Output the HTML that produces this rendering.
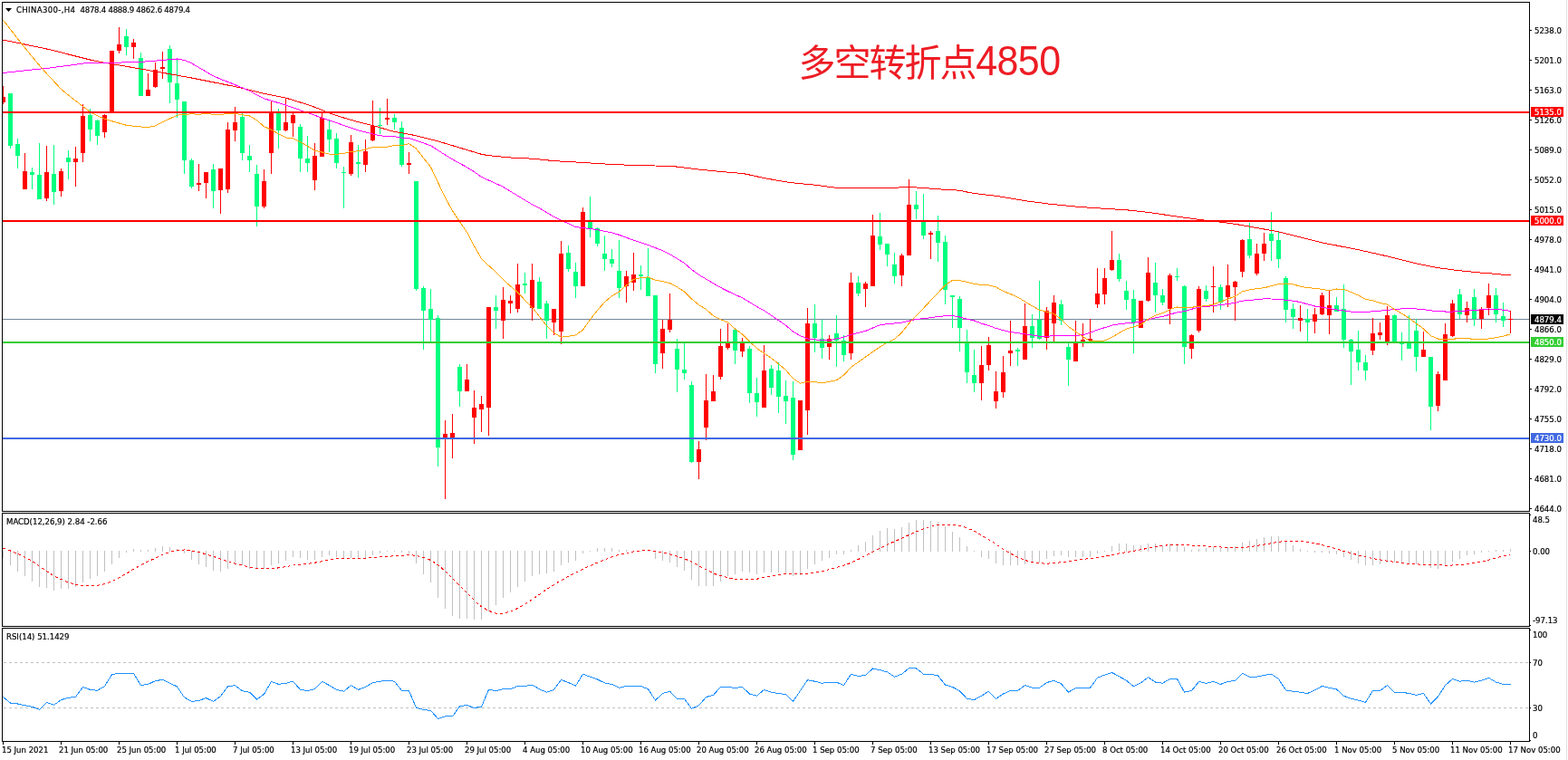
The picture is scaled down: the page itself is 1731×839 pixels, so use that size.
<!DOCTYPE html>
<html><head><meta charset="utf-8"><title>CHINA300 H4</title>
<style>
html,body{margin:0;padding:0;background:#fff;width:1731px;height:839px;overflow:hidden}
svg{display:block}
.ax{font-family:"DejaVu Sans Condensed","DejaVu Sans",sans-serif;font-stretch:condensed;font-size:9.5px;fill:#000;stroke:#000;stroke-width:0.2px}
.title{font-family:"Liberation Sans","Noto Sans CJK SC",sans-serif;font-size:41px;letter-spacing:-2px;fill:#ed1c24}
.tdig{font-size:43px;letter-spacing:-0.6px}
</style></head><body>
<svg width="1731" height="839" viewBox="0 0 1731 839">
<defs>
<clipPath id="cmain"><rect x="3" y="3" width="1685" height="561"/></clipPath>
<clipPath id="cmacd"><rect x="3" y="567" width="1685" height="124"/></clipPath>
<clipPath id="crsi"><rect x="3" y="694" width="1685" height="124"/></clipPath>
</defs>
<rect width="1731" height="839" fill="#ffffff"/>
<g clip-path="url(#cmain)" shape-rendering="crispEdges"><rect x="3" y="352" width="1685" height="1" fill="#778899"/><rect x="3" y="95" width="1" height="20" fill="#ff0000"/><rect x="1" y="107" width="5" height="6" fill="#ff0000"/><rect x="11" y="103" width="1" height="61" fill="#00ff7f"/><rect x="9" y="103" width="5" height="58" fill="#00ff7f"/><rect x="19" y="153" width="1" height="33" fill="#00ff7f"/><rect x="17" y="159" width="5" height="13" fill="#00ff7f"/><rect x="27" y="169" width="1" height="40" fill="#ff0000"/><rect x="25" y="189" width="5" height="20" fill="#ff0000"/><rect x="35" y="185" width="1" height="24" fill="#00ff7f"/><rect x="33" y="190" width="5" height="3" fill="#00ff7f"/><rect x="43" y="158" width="1" height="62" fill="#00ff7f"/><rect x="41" y="193" width="5" height="27" fill="#00ff7f"/><rect x="51" y="161" width="1" height="61" fill="#ff0000"/><rect x="49" y="190" width="5" height="29" fill="#ff0000"/><rect x="59" y="160" width="1" height="66" fill="#00ff7f"/><rect x="57" y="192" width="5" height="20" fill="#00ff7f"/><rect x="67" y="186" width="1" height="31" fill="#ff0000"/><rect x="65" y="189" width="5" height="22" fill="#ff0000"/><rect x="75" y="166" width="1" height="32" fill="#00ff7f"/><rect x="73" y="174" width="5" height="5" fill="#00ff7f"/><rect x="83" y="162" width="1" height="44" fill="#ff0000"/><rect x="81" y="175" width="5" height="4" fill="#ff0000"/><rect x="91" y="115" width="1" height="64" fill="#ff0000"/><rect x="89" y="128" width="5" height="41" fill="#ff0000"/><rect x="99" y="120" width="1" height="36" fill="#00ff7f"/><rect x="97" y="127" width="5" height="16" fill="#00ff7f"/><rect x="107" y="132" width="1" height="28" fill="#00ff7f"/><rect x="105" y="133" width="5" height="17" fill="#00ff7f"/><rect x="115" y="126" width="1" height="26" fill="#ff0000"/><rect x="113" y="127" width="5" height="19" fill="#ff0000"/><rect x="123" y="56" width="1" height="68" fill="#ff0000"/><rect x="121" y="56" width="5" height="68" fill="#ff0000"/><rect x="131" y="30" width="1" height="29" fill="#ff0000"/><rect x="129" y="49" width="5" height="7" fill="#ff0000"/><rect x="139" y="32" width="1" height="29" fill="#00ff7f"/><rect x="137" y="40" width="5" height="12" fill="#00ff7f"/><rect x="147" y="43" width="1" height="22" fill="#ff0000"/><rect x="145" y="47" width="5" height="5" fill="#ff0000"/><rect x="155" y="58" width="1" height="48" fill="#00ff7f"/><rect x="153" y="64" width="5" height="42" fill="#00ff7f"/><rect x="163" y="81" width="1" height="25" fill="#ff0000"/><rect x="161" y="99" width="5" height="7" fill="#ff0000"/><rect x="171" y="69" width="1" height="28" fill="#ff0000"/><rect x="169" y="77" width="5" height="19" fill="#ff0000"/><rect x="179" y="57" width="1" height="30" fill="#ff0000"/><rect x="177" y="74" width="5" height="2" fill="#ff0000"/><rect x="187" y="50" width="1" height="64" fill="#00ff7f"/><rect x="185" y="54" width="5" height="37" fill="#00ff7f"/><rect x="195" y="65" width="1" height="65" fill="#00ff7f"/><rect x="193" y="92" width="5" height="18" fill="#00ff7f"/><rect x="203" y="112" width="1" height="80" fill="#00ff7f"/><rect x="201" y="112" width="5" height="65" fill="#00ff7f"/><rect x="211" y="175" width="1" height="33" fill="#00ff7f"/><rect x="209" y="177" width="5" height="29" fill="#00ff7f"/><rect x="219" y="181" width="1" height="30" fill="#ff0000"/><rect x="217" y="202" width="5" height="2" fill="#ff0000"/><rect x="227" y="190" width="1" height="29" fill="#ff0000"/><rect x="225" y="190" width="5" height="12" fill="#ff0000"/><rect x="235" y="181" width="1" height="49" fill="#00ff7f"/><rect x="233" y="187" width="5" height="24" fill="#00ff7f"/><rect x="243" y="186" width="1" height="50" fill="#ff0000"/><rect x="241" y="186" width="5" height="24" fill="#ff0000"/><rect x="251" y="135" width="1" height="78" fill="#ff0000"/><rect x="249" y="143" width="5" height="66" fill="#ff0000"/><rect x="259" y="118" width="1" height="38" fill="#ff0000"/><rect x="257" y="135" width="5" height="9" fill="#ff0000"/><rect x="267" y="125" width="1" height="52" fill="#00ff7f"/><rect x="265" y="129" width="5" height="40" fill="#00ff7f"/><rect x="275" y="160" width="1" height="30" fill="#00ff7f"/><rect x="273" y="172" width="5" height="5" fill="#00ff7f"/><rect x="283" y="182" width="1" height="68" fill="#00ff7f"/><rect x="281" y="192" width="5" height="36" fill="#00ff7f"/><rect x="291" y="187" width="1" height="43" fill="#ff0000"/><rect x="289" y="200" width="5" height="28" fill="#ff0000"/><rect x="299" y="112" width="1" height="80" fill="#ff0000"/><rect x="297" y="125" width="5" height="44" fill="#ff0000"/><rect x="307" y="120" width="1" height="44" fill="#00ff7f"/><rect x="305" y="125" width="5" height="19" fill="#00ff7f"/><rect x="315" y="108" width="1" height="37" fill="#ff0000"/><rect x="313" y="135" width="5" height="9" fill="#ff0000"/><rect x="323" y="124" width="1" height="27" fill="#ff0000"/><rect x="321" y="127" width="5" height="9" fill="#ff0000"/><rect x="331" y="137" width="1" height="53" fill="#00ff7f"/><rect x="329" y="140" width="5" height="35" fill="#00ff7f"/><rect x="339" y="150" width="1" height="40" fill="#00ff7f"/><rect x="337" y="175" width="5" height="5" fill="#00ff7f"/><rect x="347" y="158" width="1" height="52" fill="#ff0000"/><rect x="345" y="172" width="5" height="27" fill="#ff0000"/><rect x="355" y="124" width="1" height="49" fill="#ff0000"/><rect x="353" y="130" width="5" height="43" fill="#ff0000"/><rect x="363" y="132" width="1" height="36" fill="#00ff7f"/><rect x="361" y="143" width="5" height="11" fill="#00ff7f"/><rect x="371" y="147" width="1" height="39" fill="#00ff7f"/><rect x="369" y="153" width="5" height="27" fill="#00ff7f"/><rect x="379" y="184" width="1" height="46" fill="#00ff7f"/><rect x="377" y="190" width="5" height="1" fill="#00ff7f"/><rect x="387" y="149" width="1" height="45" fill="#ff0000"/><rect x="385" y="157" width="5" height="35" fill="#ff0000"/><rect x="395" y="160" width="1" height="36" fill="#00ff7f"/><rect x="393" y="179" width="5" height="2" fill="#00ff7f"/><rect x="403" y="154" width="1" height="36" fill="#ff0000"/><rect x="401" y="167" width="5" height="15" fill="#ff0000"/><rect x="411" y="111" width="1" height="45" fill="#ff0000"/><rect x="409" y="139" width="5" height="16" fill="#ff0000"/><rect x="419" y="119" width="1" height="29" fill="#00ff7f"/><rect x="417" y="138" width="5" height="1" fill="#00ff7f"/><rect x="427" y="109" width="1" height="29" fill="#ff0000"/><rect x="425" y="130" width="5" height="2" fill="#ff0000"/><rect x="435" y="126" width="1" height="17" fill="#00ff7f"/><rect x="433" y="130" width="5" height="5" fill="#00ff7f"/><rect x="443" y="134" width="1" height="50" fill="#00ff7f"/><rect x="441" y="141" width="5" height="41" fill="#00ff7f"/><rect x="451" y="168" width="1" height="24" fill="#ff0000"/><rect x="449" y="180" width="5" height="2" fill="#ff0000"/><rect x="459" y="200" width="1" height="121" fill="#00ff7f"/><rect x="457" y="200" width="5" height="119" fill="#00ff7f"/><rect x="467" y="316" width="1" height="70" fill="#00ff7f"/><rect x="465" y="318" width="5" height="25" fill="#00ff7f"/><rect x="475" y="319" width="1" height="58" fill="#00ff7f"/><rect x="473" y="341" width="5" height="12" fill="#00ff7f"/><rect x="483" y="348" width="1" height="167" fill="#00ff7f"/><rect x="481" y="351" width="5" height="143" fill="#00ff7f"/><rect x="491" y="464" width="1" height="87" fill="#ff0000"/><rect x="489" y="479" width="5" height="4" fill="#ff0000"/><rect x="499" y="457" width="1" height="49" fill="#ff0000"/><rect x="497" y="478" width="5" height="5" fill="#ff0000"/><rect x="507" y="402" width="1" height="47" fill="#00ff7f"/><rect x="505" y="405" width="5" height="27" fill="#00ff7f"/><rect x="515" y="402" width="1" height="30" fill="#ff0000"/><rect x="513" y="419" width="5" height="13" fill="#ff0000"/><rect x="523" y="431" width="1" height="59" fill="#ff0000"/><rect x="521" y="450" width="5" height="11" fill="#ff0000"/><rect x="531" y="437" width="1" height="40" fill="#ff0000"/><rect x="529" y="446" width="5" height="6" fill="#ff0000"/><rect x="539" y="339" width="1" height="142" fill="#ff0000"/><rect x="537" y="339" width="5" height="111" fill="#ff0000"/><rect x="547" y="326" width="1" height="37" fill="#00ff7f"/><rect x="545" y="339" width="5" height="4" fill="#00ff7f"/><rect x="555" y="317" width="1" height="57" fill="#ff0000"/><rect x="553" y="331" width="5" height="23" fill="#ff0000"/><rect x="563" y="326" width="1" height="20" fill="#ff0000"/><rect x="561" y="332" width="5" height="3" fill="#ff0000"/><rect x="571" y="291" width="1" height="54" fill="#ff0000"/><rect x="569" y="314" width="5" height="27" fill="#ff0000"/><rect x="579" y="301" width="1" height="23" fill="#00ff7f"/><rect x="577" y="313" width="5" height="2" fill="#00ff7f"/><rect x="587" y="291" width="1" height="63" fill="#ff0000"/><rect x="585" y="309" width="5" height="31" fill="#ff0000"/><rect x="595" y="306" width="1" height="35" fill="#00ff7f"/><rect x="593" y="311" width="5" height="30" fill="#00ff7f"/><rect x="603" y="332" width="1" height="42" fill="#00ff7f"/><rect x="601" y="335" width="5" height="19" fill="#00ff7f"/><rect x="611" y="341" width="1" height="29" fill="#ff0000"/><rect x="609" y="341" width="5" height="15" fill="#ff0000"/><rect x="619" y="266" width="1" height="114" fill="#ff0000"/><rect x="617" y="280" width="5" height="86" fill="#ff0000"/><rect x="627" y="271" width="1" height="29" fill="#00ff7f"/><rect x="625" y="279" width="5" height="18" fill="#00ff7f"/><rect x="635" y="290" width="1" height="39" fill="#00ff7f"/><rect x="633" y="300" width="5" height="16" fill="#00ff7f"/><rect x="643" y="229" width="1" height="87" fill="#ff0000"/><rect x="641" y="234" width="5" height="82" fill="#ff0000"/><rect x="651" y="217" width="1" height="45" fill="#00ff7f"/><rect x="649" y="245" width="5" height="7" fill="#00ff7f"/><rect x="659" y="251" width="1" height="21" fill="#00ff7f"/><rect x="657" y="252" width="5" height="17" fill="#00ff7f"/><rect x="667" y="260" width="1" height="39" fill="#00ff7f"/><rect x="665" y="280" width="5" height="6" fill="#00ff7f"/><rect x="675" y="275" width="1" height="20" fill="#00ff7f"/><rect x="673" y="286" width="5" height="5" fill="#00ff7f"/><rect x="683" y="265" width="1" height="64" fill="#00ff7f"/><rect x="681" y="299" width="5" height="19" fill="#00ff7f"/><rect x="691" y="299" width="1" height="35" fill="#ff0000"/><rect x="689" y="305" width="5" height="11" fill="#ff0000"/><rect x="699" y="279" width="1" height="42" fill="#ff0000"/><rect x="697" y="303" width="5" height="9" fill="#ff0000"/><rect x="707" y="293" width="1" height="27" fill="#00ff7f"/><rect x="705" y="303" width="5" height="2" fill="#00ff7f"/><rect x="715" y="274" width="1" height="53" fill="#00ff7f"/><rect x="713" y="306" width="5" height="21" fill="#00ff7f"/><rect x="723" y="326" width="1" height="86" fill="#00ff7f"/><rect x="721" y="326" width="5" height="76" fill="#00ff7f"/><rect x="731" y="353" width="1" height="54" fill="#ff0000"/><rect x="729" y="363" width="5" height="27" fill="#ff0000"/><rect x="739" y="324" width="1" height="43" fill="#ff0000"/><rect x="737" y="353" width="5" height="11" fill="#ff0000"/><rect x="747" y="374" width="1" height="59" fill="#00ff7f"/><rect x="745" y="385" width="5" height="23" fill="#00ff7f"/><rect x="755" y="378" width="1" height="41" fill="#00ff7f"/><rect x="753" y="408" width="5" height="4" fill="#00ff7f"/><rect x="763" y="421" width="1" height="90" fill="#00ff7f"/><rect x="761" y="425" width="5" height="85" fill="#00ff7f"/><rect x="771" y="487" width="1" height="42" fill="#ff0000"/><rect x="769" y="496" width="5" height="14" fill="#ff0000"/><rect x="779" y="413" width="1" height="73" fill="#ff0000"/><rect x="777" y="442" width="5" height="30" fill="#ff0000"/><rect x="787" y="414" width="1" height="29" fill="#ff0000"/><rect x="785" y="432" width="5" height="11" fill="#ff0000"/><rect x="795" y="363" width="1" height="56" fill="#ff0000"/><rect x="793" y="382" width="5" height="34" fill="#ff0000"/><rect x="803" y="357" width="1" height="29" fill="#ff0000"/><rect x="801" y="379" width="5" height="5" fill="#ff0000"/><rect x="811" y="364" width="1" height="38" fill="#00ff7f"/><rect x="809" y="364" width="5" height="23" fill="#00ff7f"/><rect x="819" y="373" width="1" height="21" fill="#ff0000"/><rect x="817" y="379" width="5" height="9" fill="#ff0000"/><rect x="827" y="382" width="1" height="63" fill="#00ff7f"/><rect x="825" y="385" width="5" height="49" fill="#00ff7f"/><rect x="835" y="417" width="1" height="43" fill="#00ff7f"/><rect x="833" y="434" width="5" height="10" fill="#00ff7f"/><rect x="843" y="381" width="1" height="69" fill="#ff0000"/><rect x="841" y="409" width="5" height="41" fill="#ff0000"/><rect x="851" y="403" width="1" height="33" fill="#00ff7f"/><rect x="849" y="407" width="5" height="21" fill="#00ff7f"/><rect x="859" y="400" width="1" height="56" fill="#00ff7f"/><rect x="857" y="409" width="5" height="29" fill="#00ff7f"/><rect x="867" y="420" width="1" height="48" fill="#00ff7f"/><rect x="865" y="437" width="5" height="6" fill="#00ff7f"/><rect x="875" y="421" width="1" height="87" fill="#00ff7f"/><rect x="873" y="439" width="5" height="63" fill="#00ff7f"/><rect x="883" y="442" width="1" height="55" fill="#ff0000"/><rect x="881" y="442" width="5" height="55" fill="#ff0000"/><rect x="891" y="340" width="1" height="140" fill="#ff0000"/><rect x="889" y="357" width="5" height="96" fill="#ff0000"/><rect x="899" y="336" width="1" height="53" fill="#00ff7f"/><rect x="897" y="357" width="5" height="16" fill="#00ff7f"/><rect x="907" y="353" width="1" height="43" fill="#00ff7f"/><rect x="905" y="374" width="5" height="10" fill="#00ff7f"/><rect x="915" y="370" width="1" height="27" fill="#ff0000"/><rect x="913" y="374" width="5" height="9" fill="#ff0000"/><rect x="923" y="348" width="1" height="57" fill="#00ff7f"/><rect x="921" y="368" width="5" height="8" fill="#00ff7f"/><rect x="931" y="370" width="1" height="29" fill="#00ff7f"/><rect x="929" y="376" width="5" height="16" fill="#00ff7f"/><rect x="939" y="301" width="1" height="96" fill="#ff0000"/><rect x="937" y="312" width="5" height="78" fill="#ff0000"/><rect x="947" y="305" width="1" height="22" fill="#00ff7f"/><rect x="945" y="312" width="5" height="12" fill="#00ff7f"/><rect x="955" y="311" width="1" height="28" fill="#ff0000"/><rect x="953" y="313" width="5" height="6" fill="#ff0000"/><rect x="963" y="237" width="1" height="79" fill="#ff0000"/><rect x="961" y="260" width="5" height="56" fill="#ff0000"/><rect x="971" y="235" width="1" height="41" fill="#00ff7f"/><rect x="969" y="261" width="5" height="9" fill="#00ff7f"/><rect x="979" y="269" width="1" height="25" fill="#00ff7f"/><rect x="977" y="269" width="5" height="12" fill="#00ff7f"/><rect x="987" y="279" width="1" height="34" fill="#00ff7f"/><rect x="985" y="292" width="5" height="13" fill="#00ff7f"/><rect x="995" y="280" width="1" height="36" fill="#ff0000"/><rect x="993" y="282" width="5" height="22" fill="#ff0000"/><rect x="1003" y="198" width="1" height="84" fill="#ff0000"/><rect x="1001" y="226" width="5" height="56" fill="#ff0000"/><rect x="1011" y="211" width="1" height="31" fill="#00ff7f"/><rect x="1009" y="226" width="5" height="5" fill="#00ff7f"/><rect x="1019" y="214" width="1" height="50" fill="#00ff7f"/><rect x="1017" y="243" width="5" height="17" fill="#00ff7f"/><rect x="1027" y="255" width="1" height="31" fill="#ff0000"/><rect x="1025" y="257" width="5" height="2" fill="#ff0000"/><rect x="1035" y="238" width="1" height="51" fill="#00ff7f"/><rect x="1033" y="255" width="5" height="13" fill="#00ff7f"/><rect x="1043" y="260" width="1" height="76" fill="#00ff7f"/><rect x="1041" y="267" width="5" height="53" fill="#00ff7f"/><rect x="1051" y="326" width="1" height="36" fill="#00ff7f"/><rect x="1049" y="326" width="5" height="2" fill="#00ff7f"/><rect x="1059" y="327" width="1" height="61" fill="#00ff7f"/><rect x="1057" y="330" width="5" height="32" fill="#00ff7f"/><rect x="1067" y="364" width="1" height="59" fill="#00ff7f"/><rect x="1065" y="378" width="5" height="33" fill="#00ff7f"/><rect x="1075" y="386" width="1" height="47" fill="#00ff7f"/><rect x="1073" y="414" width="5" height="9" fill="#00ff7f"/><rect x="1083" y="382" width="1" height="60" fill="#ff0000"/><rect x="1081" y="403" width="5" height="20" fill="#ff0000"/><rect x="1091" y="372" width="1" height="37" fill="#ff0000"/><rect x="1089" y="381" width="5" height="22" fill="#ff0000"/><rect x="1099" y="410" width="1" height="41" fill="#ff0000"/><rect x="1097" y="432" width="5" height="11" fill="#ff0000"/><rect x="1107" y="393" width="1" height="46" fill="#ff0000"/><rect x="1105" y="411" width="5" height="22" fill="#ff0000"/><rect x="1115" y="354" width="1" height="50" fill="#ff0000"/><rect x="1113" y="387" width="5" height="3" fill="#ff0000"/><rect x="1123" y="384" width="1" height="20" fill="#00ff7f"/><rect x="1121" y="386" width="5" height="2" fill="#00ff7f"/><rect x="1131" y="335" width="1" height="62" fill="#ff0000"/><rect x="1129" y="360" width="5" height="37" fill="#ff0000"/><rect x="1139" y="347" width="1" height="37" fill="#00ff7f"/><rect x="1137" y="360" width="5" height="13" fill="#00ff7f"/><rect x="1147" y="310" width="1" height="65" fill="#00ff7f"/><rect x="1145" y="353" width="5" height="21" fill="#00ff7f"/><rect x="1155" y="339" width="1" height="47" fill="#ff0000"/><rect x="1153" y="343" width="5" height="30" fill="#ff0000"/><rect x="1163" y="326" width="1" height="51" fill="#ff0000"/><rect x="1161" y="334" width="5" height="23" fill="#ff0000"/><rect x="1171" y="331" width="1" height="28" fill="#00ff7f"/><rect x="1169" y="336" width="5" height="18" fill="#00ff7f"/><rect x="1179" y="378" width="1" height="48" fill="#00ff7f"/><rect x="1177" y="383" width="5" height="14" fill="#00ff7f"/><rect x="1187" y="354" width="1" height="45" fill="#ff0000"/><rect x="1185" y="377" width="5" height="22" fill="#ff0000"/><rect x="1195" y="357" width="1" height="26" fill="#ff0000"/><rect x="1193" y="375" width="5" height="2" fill="#ff0000"/><rect x="1203" y="352" width="1" height="24" fill="#ff0000"/><rect x="1201" y="374" width="5" height="2" fill="#ff0000"/><rect x="1211" y="296" width="1" height="44" fill="#ff0000"/><rect x="1209" y="324" width="5" height="12" fill="#ff0000"/><rect x="1219" y="296" width="1" height="40" fill="#ff0000"/><rect x="1217" y="307" width="5" height="18" fill="#ff0000"/><rect x="1227" y="255" width="1" height="44" fill="#ff0000"/><rect x="1225" y="287" width="5" height="11" fill="#ff0000"/><rect x="1235" y="280" width="1" height="31" fill="#00ff7f"/><rect x="1233" y="287" width="5" height="21" fill="#00ff7f"/><rect x="1243" y="310" width="1" height="32" fill="#00ff7f"/><rect x="1241" y="321" width="5" height="10" fill="#00ff7f"/><rect x="1251" y="320" width="1" height="70" fill="#00ff7f"/><rect x="1249" y="330" width="5" height="26" fill="#00ff7f"/><rect x="1259" y="332" width="1" height="30" fill="#ff0000"/><rect x="1257" y="332" width="5" height="30" fill="#ff0000"/><rect x="1267" y="284" width="1" height="49" fill="#ff0000"/><rect x="1265" y="301" width="5" height="31" fill="#ff0000"/><rect x="1275" y="290" width="1" height="55" fill="#00ff7f"/><rect x="1273" y="312" width="5" height="14" fill="#00ff7f"/><rect x="1283" y="319" width="1" height="18" fill="#00ff7f"/><rect x="1281" y="326" width="5" height="8" fill="#00ff7f"/><rect x="1291" y="302" width="1" height="56" fill="#ff0000"/><rect x="1289" y="304" width="5" height="37" fill="#ff0000"/><rect x="1299" y="296" width="1" height="14" fill="#00ff7f"/><rect x="1297" y="305" width="5" height="1" fill="#00ff7f"/><rect x="1307" y="315" width="1" height="87" fill="#00ff7f"/><rect x="1305" y="316" width="5" height="67" fill="#00ff7f"/><rect x="1315" y="369" width="1" height="27" fill="#ff0000"/><rect x="1313" y="370" width="5" height="15" fill="#ff0000"/><rect x="1323" y="316" width="1" height="51" fill="#ff0000"/><rect x="1321" y="319" width="5" height="46" fill="#ff0000"/><rect x="1331" y="315" width="1" height="18" fill="#00ff7f"/><rect x="1329" y="321" width="5" height="9" fill="#00ff7f"/><rect x="1339" y="294" width="1" height="51" fill="#ff0000"/><rect x="1337" y="316" width="5" height="1" fill="#ff0000"/><rect x="1347" y="314" width="1" height="28" fill="#00ff7f"/><rect x="1345" y="317" width="5" height="17" fill="#00ff7f"/><rect x="1355" y="292" width="1" height="47" fill="#ff0000"/><rect x="1353" y="315" width="5" height="13" fill="#ff0000"/><rect x="1363" y="310" width="1" height="44" fill="#ff0000"/><rect x="1361" y="311" width="5" height="6" fill="#ff0000"/><rect x="1371" y="264" width="1" height="42" fill="#ff0000"/><rect x="1369" y="265" width="5" height="35" fill="#ff0000"/><rect x="1379" y="246" width="1" height="39" fill="#00ff7f"/><rect x="1377" y="264" width="5" height="18" fill="#00ff7f"/><rect x="1387" y="269" width="1" height="35" fill="#ff0000"/><rect x="1385" y="280" width="5" height="22" fill="#ff0000"/><rect x="1395" y="257" width="1" height="31" fill="#ff0000"/><rect x="1393" y="269" width="5" height="11" fill="#ff0000"/><rect x="1403" y="234" width="1" height="54" fill="#00ff7f"/><rect x="1401" y="258" width="5" height="8" fill="#00ff7f"/><rect x="1411" y="256" width="1" height="40" fill="#00ff7f"/><rect x="1409" y="265" width="5" height="21" fill="#00ff7f"/><rect x="1419" y="305" width="1" height="51" fill="#00ff7f"/><rect x="1417" y="307" width="5" height="35" fill="#00ff7f"/><rect x="1427" y="335" width="1" height="28" fill="#00ff7f"/><rect x="1425" y="341" width="5" height="9" fill="#00ff7f"/><rect x="1435" y="337" width="1" height="29" fill="#ff0000"/><rect x="1433" y="351" width="5" height="3" fill="#ff0000"/><rect x="1443" y="341" width="1" height="36" fill="#00ff7f"/><rect x="1441" y="352" width="5" height="4" fill="#00ff7f"/><rect x="1451" y="340" width="1" height="28" fill="#ff0000"/><rect x="1449" y="347" width="5" height="8" fill="#ff0000"/><rect x="1459" y="323" width="1" height="25" fill="#ff0000"/><rect x="1457" y="326" width="5" height="21" fill="#ff0000"/><rect x="1467" y="320" width="1" height="49" fill="#ff0000"/><rect x="1465" y="337" width="5" height="11" fill="#ff0000"/><rect x="1475" y="328" width="1" height="16" fill="#00ff7f"/><rect x="1473" y="337" width="5" height="7" fill="#00ff7f"/><rect x="1483" y="314" width="1" height="70" fill="#00ff7f"/><rect x="1481" y="341" width="5" height="34" fill="#00ff7f"/><rect x="1491" y="374" width="1" height="51" fill="#00ff7f"/><rect x="1489" y="375" width="5" height="13" fill="#00ff7f"/><rect x="1499" y="365" width="1" height="44" fill="#00ff7f"/><rect x="1497" y="386" width="5" height="14" fill="#00ff7f"/><rect x="1507" y="392" width="1" height="28" fill="#00ff7f"/><rect x="1505" y="400" width="5" height="9" fill="#00ff7f"/><rect x="1515" y="351" width="1" height="41" fill="#ff0000"/><rect x="1513" y="368" width="5" height="19" fill="#ff0000"/><rect x="1523" y="356" width="1" height="19" fill="#ff0000"/><rect x="1521" y="367" width="5" height="3" fill="#ff0000"/><rect x="1531" y="338" width="1" height="43" fill="#ff0000"/><rect x="1529" y="348" width="5" height="29" fill="#ff0000"/><rect x="1539" y="347" width="1" height="32" fill="#00ff7f"/><rect x="1537" y="348" width="5" height="31" fill="#00ff7f"/><rect x="1547" y="367" width="1" height="31" fill="#00ff7f"/><rect x="1545" y="378" width="5" height="2" fill="#00ff7f"/><rect x="1555" y="348" width="1" height="37" fill="#00ff7f"/><rect x="1553" y="379" width="5" height="6" fill="#00ff7f"/><rect x="1563" y="352" width="1" height="58" fill="#00ff7f"/><rect x="1561" y="365" width="5" height="29" fill="#00ff7f"/><rect x="1571" y="366" width="1" height="28" fill="#ff0000"/><rect x="1569" y="386" width="5" height="8" fill="#ff0000"/><rect x="1579" y="394" width="1" height="81" fill="#00ff7f"/><rect x="1577" y="394" width="5" height="55" fill="#00ff7f"/><rect x="1587" y="410" width="1" height="44" fill="#ff0000"/><rect x="1585" y="413" width="5" height="35" fill="#ff0000"/><rect x="1595" y="357" width="1" height="63" fill="#ff0000"/><rect x="1593" y="369" width="5" height="51" fill="#ff0000"/><rect x="1603" y="331" width="1" height="41" fill="#ff0000"/><rect x="1601" y="335" width="5" height="36" fill="#ff0000"/><rect x="1611" y="319" width="1" height="33" fill="#00ff7f"/><rect x="1609" y="325" width="5" height="22" fill="#00ff7f"/><rect x="1619" y="333" width="1" height="23" fill="#ff0000"/><rect x="1617" y="340" width="5" height="8" fill="#ff0000"/><rect x="1627" y="319" width="1" height="41" fill="#00ff7f"/><rect x="1625" y="328" width="5" height="24" fill="#00ff7f"/><rect x="1635" y="339" width="1" height="24" fill="#ff0000"/><rect x="1633" y="342" width="5" height="10" fill="#ff0000"/><rect x="1643" y="313" width="1" height="35" fill="#ff0000"/><rect x="1641" y="326" width="5" height="14" fill="#ff0000"/><rect x="1651" y="318" width="1" height="38" fill="#00ff7f"/><rect x="1649" y="326" width="5" height="21" fill="#00ff7f"/><rect x="1659" y="334" width="1" height="27" fill="#00ff7f"/><rect x="1657" y="349" width="5" height="5" fill="#00ff7f"/><rect x="1667" y="343" width="1" height="25" fill="#ff0000"/><rect x="1665" y="352" width="5" height="1" fill="#ff0000"/><polyline points="3.5,44.0 11.5,45.7 19.5,47.3 27.5,49.0 35.5,50.7 43.5,52.3 51.5,54.0 59.5,55.9 67.5,57.9 75.5,60.0 83.5,62.0 91.5,64.0 99.5,66.0 107.5,67.8 115.5,69.2 123.5,70.6 131.5,72.0 139.5,73.3 147.5,74.7 155.5,76.1 163.5,77.5 171.5,78.9 179.5,80.3 187.5,81.7 195.5,83.1 203.5,84.6 211.5,86.0 219.5,87.6 227.5,89.2 235.5,90.8 243.5,92.4 251.5,94.0 259.5,95.6 267.5,97.4 275.5,99.4 283.5,101.5 291.5,103.4 299.5,104.9 307.5,106.5 315.5,108.1 323.5,110.5 331.5,113.0 339.5,115.4 347.5,118.4 355.5,121.5 363.5,124.7 371.5,127.6 379.5,130.0 387.5,132.4 395.5,134.7 403.5,136.7 411.5,138.7 419.5,140.7 427.5,143.3 435.5,145.3 443.5,146.8 451.5,148.2 459.5,149.8 467.5,151.8 475.5,153.8 483.5,155.9 491.5,158.3 499.5,160.7 507.5,163.1 515.5,165.5 523.5,167.9 531.5,170.3 539.5,171.7 547.5,172.5 555.5,173.3 563.5,174.0 571.5,174.3 579.5,174.8 587.5,175.2 595.5,176.0 603.5,176.8 611.5,177.6 619.5,178.1 627.5,178.6 635.5,179.0 643.5,179.5 651.5,180.0 659.5,180.5 667.5,181.0 675.5,181.3 683.5,181.8 691.5,182.1 699.5,182.4 707.5,182.6 715.5,182.9 723.5,183.0 731.5,183.2 739.5,183.3 747.5,184.1 755.5,185.1 763.5,186.1 771.5,187.1 779.5,187.9 787.5,188.7 795.5,189.5 803.5,190.1 811.5,190.8 819.5,191.4 827.5,193.0 835.5,194.8 843.5,196.5 851.5,198.0 859.5,199.4 867.5,200.8 875.5,201.9 883.5,202.7 891.5,203.4 899.5,204.2 907.5,205.2 915.5,206.3 923.5,207.3 931.5,207.9 939.5,207.9 947.5,207.9 955.5,207.9 963.5,207.9 971.5,207.9 979.5,207.9 987.5,207.7 995.5,206.5 1003.5,206.8 1011.5,207.0 1019.5,207.5 1027.5,208.1 1035.5,208.7 1043.5,209.4 1051.5,209.7 1059.5,210.3 1067.5,212.0 1075.5,213.4 1083.5,214.4 1091.5,215.4 1099.5,216.3 1107.5,217.6 1115.5,219.0 1123.5,220.3 1131.5,221.6 1139.5,222.7 1147.5,223.7 1155.5,224.8 1163.5,225.7 1171.5,226.5 1179.5,227.3 1187.5,228.1 1195.5,228.7 1203.5,229.3 1211.5,229.8 1219.5,230.3 1227.5,230.8 1235.5,231.3 1243.5,231.8 1251.5,232.6 1259.5,233.5 1267.5,234.5 1275.5,235.5 1283.5,236.7 1291.5,237.9 1299.5,239.1 1307.5,240.2 1315.5,241.2 1323.5,242.3 1331.5,243.3 1339.5,244.3 1347.5,245.2 1355.5,246.2 1363.5,247.3 1371.5,248.7 1379.5,250.1 1387.5,251.6 1395.5,253.0 1403.5,254.4 1411.5,255.9 1419.5,257.8 1427.5,259.8 1435.5,261.9 1443.5,263.9 1451.5,265.9 1459.5,267.9 1467.5,269.5 1475.5,271.0 1483.5,272.6 1491.5,274.1 1499.5,275.7 1507.5,277.5 1515.5,279.3 1523.5,281.1 1531.5,282.9 1539.5,284.9 1547.5,286.9 1555.5,288.9 1563.5,290.9 1571.5,292.5 1579.5,294.1 1587.5,295.7 1595.5,296.7 1603.5,297.8 1611.5,298.7 1619.5,299.6 1627.5,300.4 1635.5,301.1 1643.5,301.7 1651.5,302.5 1659.5,303.2 1667.5,304.0" fill="none" stroke="#ff0000" stroke-width="1" /><polyline points="3.5,80.5 11.5,79.6 19.5,78.7 27.5,77.8 35.5,77.0 43.5,76.2 51.5,75.4 59.5,74.4 67.5,73.3 75.5,72.3 83.5,71.2 91.5,70.1 99.5,69.3 107.5,69.3 115.5,69.3 123.5,69.3 131.5,69.1 139.5,68.8 147.5,68.6 155.5,68.3 163.5,67.8 171.5,67.1 179.5,66.5 187.5,65.7 195.5,65.0 203.5,66.4 211.5,69.8 219.5,74.5 227.5,79.2 235.5,83.9 243.5,87.3 251.5,90.4 259.5,93.6 267.5,96.9 275.5,100.2 283.5,104.8 291.5,108.8 299.5,111.2 307.5,113.6 315.5,116.0 323.5,118.8 331.5,121.7 339.5,124.5 347.5,127.3 355.5,130.1 363.5,132.8 371.5,135.6 379.5,138.4 387.5,141.2 395.5,143.8 403.5,145.8 411.5,147.8 419.5,149.8 427.5,150.6 435.5,150.8 443.5,152.1 451.5,152.5 459.5,155.1 467.5,157.9 475.5,160.8 483.5,165.8 491.5,171.1 499.5,175.9 507.5,180.3 515.5,184.7 523.5,189.7 531.5,195.5 539.5,199.0 547.5,202.6 555.5,206.3 563.5,211.3 571.5,216.1 579.5,220.9 587.5,225.7 595.5,229.9 603.5,234.6 611.5,239.4 619.5,243.1 627.5,246.8 635.5,250.6 643.5,251.6 651.5,252.5 659.5,253.7 667.5,255.4 675.5,256.9 683.5,259.3 691.5,262.2 699.5,265.3 707.5,267.7 715.5,270.5 723.5,273.6 731.5,276.6 739.5,280.7 747.5,285.5 755.5,290.5 763.5,297.5 771.5,303.3 779.5,308.1 787.5,312.8 795.5,317.4 803.5,321.5 811.5,325.3 819.5,328.7 827.5,333.7 835.5,338.5 843.5,342.9 851.5,348.2 859.5,353.6 867.5,359.3 875.5,366.0 883.5,370.7 891.5,373.9 899.5,374.9 907.5,375.6 915.5,376.0 923.5,373.9 931.5,372.3 939.5,369.3 947.5,367.3 955.5,365.4 963.5,362.0 971.5,358.7 979.5,357.7 987.5,357.0 995.5,356.1 1003.5,354.2 1011.5,352.6 1019.5,351.6 1027.5,350.7 1035.5,349.4 1043.5,348.8 1051.5,348.5 1059.5,350.0 1067.5,352.1 1075.5,354.0 1083.5,357.1 1091.5,359.5 1099.5,362.4 1107.5,364.7 1115.5,366.5 1123.5,367.7 1131.5,368.7 1139.5,370.0 1147.5,371.3 1155.5,371.6 1163.5,370.4 1171.5,370.2 1179.5,371.0 1187.5,370.4 1195.5,369.7 1203.5,367.3 1211.5,364.2 1219.5,361.7 1227.5,359.1 1235.5,357.7 1243.5,356.8 1251.5,356.2 1259.5,355.4 1267.5,353.0 1275.5,350.8 1283.5,349.4 1291.5,347.2 1299.5,344.8 1307.5,343.7 1315.5,341.3 1323.5,339.1 1331.5,338.6 1339.5,337.5 1347.5,336.6 1355.5,335.6 1363.5,334.4 1371.5,332.1 1379.5,331.5 1387.5,330.7 1395.5,329.9 1403.5,330.0 1411.5,330.3 1419.5,331.4 1427.5,332.2 1435.5,333.5 1443.5,335.9 1451.5,338.0 1459.5,339.2 1467.5,340.6 1475.5,342.0 1483.5,343.0 1491.5,344.1 1499.5,344.8 1507.5,344.7 1515.5,343.7 1523.5,343.1 1531.5,342.5 1539.5,341.5 1547.5,340.9 1555.5,340.9 1563.5,341.0 1571.5,341.5 1579.5,342.9 1587.5,343.6 1595.5,344.0 1603.5,344.0 1611.5,343.9 1619.5,342.9 1627.5,342.4 1635.5,341.8 1643.5,341.0 1651.5,341.4 1659.5,342.2 1667.5,343.4" fill="none" stroke="#ff00ff" stroke-width="1" /><polyline points="3.5,22.2 11.5,32.4 19.5,42.7 27.5,52.8 35.5,62.5 43.5,72.2 51.5,81.2 59.5,89.8 67.5,98.4 75.5,105.0 83.5,111.3 91.5,117.5 99.5,123.5 107.5,127.9 115.5,131.1 123.5,133.7 131.5,136.0 139.5,138.3 147.5,139.2 155.5,140.0 163.5,140.4 171.5,139.0 179.5,134.8 187.5,131.0 195.5,127.2 203.5,126.4 211.5,125.8 219.5,126.3 227.5,125.3 235.5,126.3 243.5,126.7 251.5,125.1 259.5,125.4 267.5,126.7 275.5,128.0 283.5,132.8 291.5,139.7 299.5,143.3 307.5,147.7 315.5,151.9 323.5,152.9 331.5,156.5 339.5,161.4 347.5,166.1 355.5,168.0 363.5,170.1 371.5,170.2 379.5,169.5 387.5,167.3 395.5,166.9 403.5,164.8 411.5,162.6 419.5,162.4 427.5,162.2 435.5,160.5 443.5,160.7 451.5,158.5 459.5,164.1 467.5,174.5 475.5,184.4 483.5,201.4 491.5,218.2 499.5,232.7 507.5,244.7 515.5,256.4 523.5,271.6 531.5,285.5 539.5,293.2 547.5,300.4 555.5,308.7 563.5,315.9 571.5,322.9 579.5,331.3 587.5,339.4 595.5,349.4 603.5,359.8 611.5,367.4 619.5,372.2 627.5,371.2 635.5,369.9 643.5,364.2 651.5,352.7 659.5,342.7 667.5,333.5 675.5,326.8 683.5,322.0 691.5,315.1 699.5,308.3 707.5,306.6 715.5,305.9 723.5,309.2 731.5,310.7 739.5,312.5 747.5,316.9 755.5,321.8 763.5,329.9 771.5,336.6 779.5,341.5 787.5,348.7 795.5,352.8 803.5,355.8 811.5,363.1 819.5,369.1 827.5,377.0 835.5,384.5 843.5,390.1 851.5,395.4 859.5,401.7 867.5,408.4 875.5,417.8 883.5,423.2 891.5,421.1 899.5,421.6 907.5,423.0 915.5,421.4 923.5,419.7 931.5,414.2 939.5,405.4 947.5,399.8 955.5,394.1 963.5,388.3 971.5,383.0 979.5,378.0 987.5,374.4 995.5,367.2 1003.5,356.9 1011.5,348.4 1019.5,340.3 1027.5,331.7 1035.5,323.4 1043.5,314.8 1051.5,309.4 1059.5,309.6 1067.5,311.4 1075.5,313.3 1083.5,314.7 1091.5,314.9 1099.5,316.8 1107.5,321.5 1115.5,324.5 1123.5,328.1 1131.5,332.9 1139.5,337.8 1147.5,342.2 1155.5,344.1 1163.5,346.6 1171.5,352.6 1179.5,360.5 1187.5,366.1 1195.5,371.7 1203.5,376.8 1211.5,376.9 1219.5,376.0 1227.5,372.4 1235.5,367.5 1243.5,363.1 1251.5,360.8 1259.5,358.5 1267.5,352.2 1275.5,348.1 1283.5,345.6 1291.5,341.6 1299.5,339.0 1307.5,339.5 1315.5,339.3 1323.5,338.1 1331.5,337.9 1339.5,336.1 1347.5,333.1 1355.5,330.1 1363.5,327.1 1371.5,321.9 1379.5,319.9 1387.5,318.6 1395.5,317.8 1403.5,315.7 1411.5,313.6 1419.5,313.0 1427.5,313.8 1435.5,316.2 1443.5,317.7 1451.5,318.3 1459.5,319.4 1467.5,320.9 1475.5,319.0 1483.5,319.3 1491.5,322.5 1499.5,325.9 1507.5,330.3 1515.5,331.9 1523.5,334.4 1531.5,336.1 1539.5,341.6 1547.5,346.2 1555.5,351.2 1563.5,357.2 1571.5,362.9 1579.5,370.7 1587.5,374.0 1595.5,375.0 1603.5,374.2 1611.5,373.7 1619.5,373.4 1627.5,374.6 1635.5,374.9 1643.5,374.0 1651.5,372.7 1659.5,371.1 1667.5,368.9" fill="none" stroke="#ffa500" stroke-width="1" /><rect x="3" y="123" width="1685" height="2" fill="#ff0000"/><rect x="3" y="243" width="1685" height="2" fill="#ff0000"/><rect x="3" y="377" width="1685" height="2" fill="#32cd32"/><rect x="3" y="483" width="1685" height="2" fill="#4169e1"/></g><g clip-path="url(#cmacd)" shape-rendering="crispEdges"><rect x="3" y="608" width="1" height="8" fill="#c0c0c0"/><rect x="11" y="608" width="1" height="16" fill="#c0c0c0"/><rect x="19" y="608" width="1" height="23" fill="#c0c0c0"/><rect x="27" y="608" width="1" height="28" fill="#c0c0c0"/><rect x="35" y="608" width="1" height="34" fill="#c0c0c0"/><rect x="43" y="608" width="1" height="40" fill="#c0c0c0"/><rect x="51" y="608" width="1" height="41" fill="#c0c0c0"/><rect x="59" y="608" width="1" height="44" fill="#c0c0c0"/><rect x="67" y="608" width="1" height="42" fill="#c0c0c0"/><rect x="75" y="608" width="1" height="42" fill="#c0c0c0"/><rect x="83" y="608" width="1" height="40" fill="#c0c0c0"/><rect x="91" y="608" width="1" height="35" fill="#c0c0c0"/><rect x="99" y="608" width="1" height="31" fill="#c0c0c0"/><rect x="107" y="608" width="1" height="28" fill="#c0c0c0"/><rect x="115" y="608" width="1" height="23" fill="#c0c0c0"/><rect x="123" y="608" width="1" height="15" fill="#c0c0c0"/><rect x="131" y="608" width="1" height="8" fill="#c0c0c0"/><rect x="139" y="608" width="1" height="2" fill="#c0c0c0"/><rect x="147" y="606" width="1" height="3" fill="#c0c0c0"/><rect x="155" y="607" width="1" height="2" fill="#c0c0c0"/><rect x="163" y="607" width="1" height="2" fill="#c0c0c0"/><rect x="171" y="605" width="1" height="4" fill="#c0c0c0"/><rect x="179" y="603" width="1" height="6" fill="#c0c0c0"/><rect x="187" y="604" width="1" height="5" fill="#c0c0c0"/><rect x="195" y="606" width="1" height="3" fill="#c0c0c0"/><rect x="203" y="608" width="1" height="3" fill="#c0c0c0"/><rect x="211" y="608" width="1" height="10" fill="#c0c0c0"/><rect x="219" y="608" width="1" height="15" fill="#c0c0c0"/><rect x="227" y="608" width="1" height="18" fill="#c0c0c0"/><rect x="235" y="608" width="1" height="22" fill="#c0c0c0"/><rect x="243" y="608" width="1" height="23" fill="#c0c0c0"/><rect x="251" y="608" width="1" height="20" fill="#c0c0c0"/><rect x="259" y="608" width="1" height="16" fill="#c0c0c0"/><rect x="267" y="608" width="1" height="16" fill="#c0c0c0"/><rect x="275" y="608" width="1" height="20" fill="#c0c0c0"/><rect x="283" y="608" width="1" height="20" fill="#c0c0c0"/><rect x="291" y="608" width="1" height="20" fill="#c0c0c0"/><rect x="299" y="608" width="1" height="16" fill="#c0c0c0"/><rect x="307" y="608" width="1" height="14" fill="#c0c0c0"/><rect x="315" y="608" width="1" height="11" fill="#c0c0c0"/><rect x="323" y="608" width="1" height="7" fill="#c0c0c0"/><rect x="331" y="608" width="1" height="8" fill="#c0c0c0"/><rect x="339" y="608" width="1" height="10" fill="#c0c0c0"/><rect x="347" y="608" width="1" height="10" fill="#c0c0c0"/><rect x="355" y="608" width="1" height="7" fill="#c0c0c0"/><rect x="363" y="608" width="1" height="5" fill="#c0c0c0"/><rect x="371" y="608" width="1" height="7" fill="#c0c0c0"/><rect x="379" y="608" width="1" height="8" fill="#c0c0c0"/><rect x="387" y="608" width="1" height="8" fill="#c0c0c0"/><rect x="395" y="608" width="1" height="8" fill="#c0c0c0"/><rect x="403" y="608" width="1" height="8" fill="#c0c0c0"/><rect x="411" y="608" width="1" height="5" fill="#c0c0c0"/><rect x="419" y="608" width="1" height="3" fill="#c0c0c0"/><rect x="427" y="608" width="1" height="1" fill="#c0c0c0"/><rect x="435" y="608" width="1" height="1" fill="#c0c0c0"/><rect x="443" y="608" width="1" height="2" fill="#c0c0c0"/><rect x="451" y="608" width="1" height="3" fill="#c0c0c0"/><rect x="459" y="608" width="1" height="14" fill="#c0c0c0"/><rect x="467" y="608" width="1" height="26" fill="#c0c0c0"/><rect x="475" y="608" width="1" height="35" fill="#c0c0c0"/><rect x="483" y="608" width="1" height="52" fill="#c0c0c0"/><rect x="491" y="608" width="1" height="64" fill="#c0c0c0"/><rect x="499" y="608" width="1" height="72" fill="#c0c0c0"/><rect x="507" y="608" width="1" height="75" fill="#c0c0c0"/><rect x="515" y="608" width="1" height="75" fill="#c0c0c0"/><rect x="523" y="608" width="1" height="76" fill="#c0c0c0"/><rect x="531" y="608" width="1" height="76" fill="#c0c0c0"/><rect x="539" y="608" width="1" height="67" fill="#c0c0c0"/><rect x="547" y="608" width="1" height="60" fill="#c0c0c0"/><rect x="555" y="608" width="1" height="52" fill="#c0c0c0"/><rect x="563" y="608" width="1" height="46" fill="#c0c0c0"/><rect x="571" y="608" width="1" height="40" fill="#c0c0c0"/><rect x="579" y="608" width="1" height="34" fill="#c0c0c0"/><rect x="587" y="608" width="1" height="28" fill="#c0c0c0"/><rect x="595" y="608" width="1" height="26" fill="#c0c0c0"/><rect x="603" y="608" width="1" height="25" fill="#c0c0c0"/><rect x="611" y="608" width="1" height="23" fill="#c0c0c0"/><rect x="619" y="608" width="1" height="16" fill="#c0c0c0"/><rect x="627" y="608" width="1" height="13" fill="#c0c0c0"/><rect x="635" y="608" width="1" height="11" fill="#c0c0c0"/><rect x="643" y="608" width="1" height="3" fill="#c0c0c0"/><rect x="651" y="608" width="1" height="1" fill="#c0c0c0"/><rect x="659" y="605" width="1" height="4" fill="#c0c0c0"/><rect x="667" y="605" width="1" height="4" fill="#c0c0c0"/><rect x="675" y="605" width="1" height="4" fill="#c0c0c0"/><rect x="683" y="607" width="1" height="2" fill="#c0c0c0"/><rect x="691" y="607" width="1" height="2" fill="#c0c0c0"/><rect x="699" y="608" width="1" height="1" fill="#c0c0c0"/><rect x="707" y="608" width="1" height="1" fill="#c0c0c0"/><rect x="715" y="608" width="1" height="1" fill="#c0c0c0"/><rect x="723" y="608" width="1" height="9" fill="#c0c0c0"/><rect x="731" y="608" width="1" height="11" fill="#c0c0c0"/><rect x="739" y="608" width="1" height="13" fill="#c0c0c0"/><rect x="747" y="608" width="1" height="18" fill="#c0c0c0"/><rect x="755" y="608" width="1" height="22" fill="#c0c0c0"/><rect x="763" y="608" width="1" height="32" fill="#c0c0c0"/><rect x="771" y="608" width="1" height="39" fill="#c0c0c0"/><rect x="779" y="608" width="1" height="39" fill="#c0c0c0"/><rect x="787" y="608" width="1" height="39" fill="#c0c0c0"/><rect x="795" y="608" width="1" height="34" fill="#c0c0c0"/><rect x="803" y="608" width="1" height="28" fill="#c0c0c0"/><rect x="811" y="608" width="1" height="26" fill="#c0c0c0"/><rect x="819" y="608" width="1" height="23" fill="#c0c0c0"/><rect x="827" y="608" width="1" height="24" fill="#c0c0c0"/><rect x="835" y="608" width="1" height="26" fill="#c0c0c0"/><rect x="843" y="608" width="1" height="24" fill="#c0c0c0"/><rect x="851" y="608" width="1" height="24" fill="#c0c0c0"/><rect x="859" y="608" width="1" height="24" fill="#c0c0c0"/><rect x="867" y="608" width="1" height="25" fill="#c0c0c0"/><rect x="875" y="608" width="1" height="28" fill="#c0c0c0"/><rect x="883" y="608" width="1" height="27" fill="#c0c0c0"/><rect x="891" y="608" width="1" height="20" fill="#c0c0c0"/><rect x="899" y="608" width="1" height="15" fill="#c0c0c0"/><rect x="907" y="608" width="1" height="11" fill="#c0c0c0"/><rect x="915" y="608" width="1" height="8" fill="#c0c0c0"/><rect x="923" y="608" width="1" height="4" fill="#c0c0c0"/><rect x="931" y="608" width="1" height="4" fill="#c0c0c0"/><rect x="939" y="607" width="1" height="2" fill="#c0c0c0"/><rect x="947" y="602" width="1" height="7" fill="#c0c0c0"/><rect x="955" y="598" width="1" height="11" fill="#c0c0c0"/><rect x="963" y="591" width="1" height="18" fill="#c0c0c0"/><rect x="971" y="586" width="1" height="23" fill="#c0c0c0"/><rect x="979" y="583" width="1" height="26" fill="#c0c0c0"/><rect x="987" y="584" width="1" height="25" fill="#c0c0c0"/><rect x="995" y="582" width="1" height="27" fill="#c0c0c0"/><rect x="1003" y="577" width="1" height="32" fill="#c0c0c0"/><rect x="1011" y="574" width="1" height="35" fill="#c0c0c0"/><rect x="1019" y="574" width="1" height="35" fill="#c0c0c0"/><rect x="1027" y="575" width="1" height="34" fill="#c0c0c0"/><rect x="1035" y="576" width="1" height="33" fill="#c0c0c0"/><rect x="1043" y="581" width="1" height="28" fill="#c0c0c0"/><rect x="1051" y="587" width="1" height="22" fill="#c0c0c0"/><rect x="1059" y="593" width="1" height="16" fill="#c0c0c0"/><rect x="1067" y="603" width="1" height="6" fill="#c0c0c0"/><rect x="1075" y="608" width="1" height="1" fill="#c0c0c0"/><rect x="1083" y="608" width="1" height="7" fill="#c0c0c0"/><rect x="1091" y="608" width="1" height="9" fill="#c0c0c0"/><rect x="1099" y="608" width="1" height="14" fill="#c0c0c0"/><rect x="1107" y="608" width="1" height="16" fill="#c0c0c0"/><rect x="1115" y="608" width="1" height="16" fill="#c0c0c0"/><rect x="1123" y="608" width="1" height="16" fill="#c0c0c0"/><rect x="1131" y="608" width="1" height="15" fill="#c0c0c0"/><rect x="1139" y="608" width="1" height="14" fill="#c0c0c0"/><rect x="1147" y="608" width="1" height="13" fill="#c0c0c0"/><rect x="1155" y="608" width="1" height="9" fill="#c0c0c0"/><rect x="1163" y="608" width="1" height="6" fill="#c0c0c0"/><rect x="1171" y="608" width="1" height="5" fill="#c0c0c0"/><rect x="1179" y="608" width="1" height="7" fill="#c0c0c0"/><rect x="1187" y="608" width="1" height="7" fill="#c0c0c0"/><rect x="1195" y="608" width="1" height="7" fill="#c0c0c0"/><rect x="1203" y="608" width="1" height="7" fill="#c0c0c0"/><rect x="1211" y="608" width="1" height="3" fill="#c0c0c0"/><rect x="1219" y="608" width="1" height="1" fill="#c0c0c0"/><rect x="1227" y="603" width="1" height="6" fill="#c0c0c0"/><rect x="1235" y="600" width="1" height="9" fill="#c0c0c0"/><rect x="1243" y="600" width="1" height="9" fill="#c0c0c0"/><rect x="1251" y="602" width="1" height="7" fill="#c0c0c0"/><rect x="1259" y="602" width="1" height="7" fill="#c0c0c0"/><rect x="1267" y="600" width="1" height="9" fill="#c0c0c0"/><rect x="1275" y="600" width="1" height="9" fill="#c0c0c0"/><rect x="1283" y="602" width="1" height="7" fill="#c0c0c0"/><rect x="1291" y="600" width="1" height="9" fill="#c0c0c0"/><rect x="1299" y="600" width="1" height="9" fill="#c0c0c0"/><rect x="1307" y="604" width="1" height="5" fill="#c0c0c0"/><rect x="1315" y="607" width="1" height="2" fill="#c0c0c0"/><rect x="1323" y="606" width="1" height="3" fill="#c0c0c0"/><rect x="1331" y="605" width="1" height="4" fill="#c0c0c0"/><rect x="1339" y="604" width="1" height="5" fill="#c0c0c0"/><rect x="1347" y="605" width="1" height="4" fill="#c0c0c0"/><rect x="1355" y="604" width="1" height="5" fill="#c0c0c0"/><rect x="1363" y="603" width="1" height="6" fill="#c0c0c0"/><rect x="1371" y="599" width="1" height="10" fill="#c0c0c0"/><rect x="1379" y="597" width="1" height="12" fill="#c0c0c0"/><rect x="1387" y="595" width="1" height="14" fill="#c0c0c0"/><rect x="1395" y="593" width="1" height="16" fill="#c0c0c0"/><rect x="1403" y="592" width="1" height="17" fill="#c0c0c0"/><rect x="1411" y="592" width="1" height="17" fill="#c0c0c0"/><rect x="1419" y="597" width="1" height="12" fill="#c0c0c0"/><rect x="1427" y="602" width="1" height="7" fill="#c0c0c0"/><rect x="1435" y="606" width="1" height="3" fill="#c0c0c0"/><rect x="1443" y="608" width="1" height="1" fill="#c0c0c0"/><rect x="1451" y="608" width="1" height="2" fill="#c0c0c0"/><rect x="1459" y="608" width="1" height="2" fill="#c0c0c0"/><rect x="1467" y="608" width="1" height="3" fill="#c0c0c0"/><rect x="1475" y="608" width="1" height="4" fill="#c0c0c0"/><rect x="1483" y="608" width="1" height="7" fill="#c0c0c0"/><rect x="1491" y="608" width="1" height="10" fill="#c0c0c0"/><rect x="1499" y="608" width="1" height="14" fill="#c0c0c0"/><rect x="1507" y="608" width="1" height="16" fill="#c0c0c0"/><rect x="1515" y="608" width="1" height="16" fill="#c0c0c0"/><rect x="1523" y="608" width="1" height="15" fill="#c0c0c0"/><rect x="1531" y="608" width="1" height="13" fill="#c0c0c0"/><rect x="1539" y="608" width="1" height="13" fill="#c0c0c0"/><rect x="1547" y="608" width="1" height="14" fill="#c0c0c0"/><rect x="1555" y="608" width="1" height="15" fill="#c0c0c0"/><rect x="1563" y="608" width="1" height="15" fill="#c0c0c0"/><rect x="1571" y="608" width="1" height="16" fill="#c0c0c0"/><rect x="1579" y="608" width="1" height="19" fill="#c0c0c0"/><rect x="1587" y="608" width="1" height="20" fill="#c0c0c0"/><rect x="1595" y="608" width="1" height="16" fill="#c0c0c0"/><rect x="1603" y="608" width="1" height="12" fill="#c0c0c0"/><rect x="1611" y="608" width="1" height="9" fill="#c0c0c0"/><rect x="1619" y="608" width="1" height="5" fill="#c0c0c0"/><rect x="1627" y="608" width="1" height="4" fill="#c0c0c0"/><rect x="1635" y="608" width="1" height="2" fill="#c0c0c0"/><rect x="1643" y="608" width="1" height="1" fill="#c0c0c0"/><rect x="1651" y="607" width="1" height="2" fill="#c0c0c0"/><rect x="1659" y="607" width="1" height="2" fill="#c0c0c0"/><rect x="1667" y="606" width="1" height="3" fill="#c0c0c0"/><polyline points="3.5,605.2 11.5,608.0 19.5,611.3 27.5,615.3 35.5,619.3 43.5,625.3 51.5,630.5 59.5,636.1 67.5,639.5 75.5,642.9 83.5,645.4 91.5,646.7 99.5,647.0 107.5,646.4 115.5,644.6 123.5,641.7 131.5,637.8 139.5,633.2 147.5,628.3 155.5,623.8 163.5,619.9 171.5,616.1 179.5,612.4 187.5,609.4 195.5,607.6 203.5,607.0 211.5,607.8 219.5,609.7 227.5,611.8 235.5,614.3 243.5,617.2 251.5,619.9 259.5,622.2 267.5,624.2 275.5,626.1 283.5,627.4 291.5,628.0 299.5,627.8 307.5,626.9 315.5,625.6 323.5,624.1 331.5,623.1 339.5,622.4 347.5,621.2 355.5,619.7 363.5,618.0 371.5,616.9 379.5,616.3 387.5,616.0 395.5,616.1 403.5,616.2 411.5,615.7 419.5,614.9 427.5,614.3 435.5,613.8 443.5,613.2 451.5,612.6 459.5,613.3 467.5,615.4 475.5,618.4 483.5,623.6 491.5,630.4 499.5,638.3 507.5,646.5 515.5,654.6 523.5,662.8 531.5,669.7 539.5,674.3 547.5,677.1 555.5,677.1 563.5,675.2 571.5,671.6 579.5,667.0 587.5,661.8 595.5,656.2 603.5,650.5 611.5,645.5 619.5,640.7 627.5,636.3 635.5,632.3 643.5,628.2 651.5,624.5 659.5,621.1 667.5,618.0 675.5,614.9 683.5,612.3 691.5,610.4 699.5,609.0 707.5,607.9 715.5,607.7 723.5,608.6 731.5,610.1 739.5,611.8 747.5,614.1 755.5,616.6 763.5,620.3 771.5,624.5 779.5,628.8 787.5,633.0 795.5,635.7 803.5,637.7 811.5,639.1 819.5,639.7 827.5,639.9 835.5,639.2 843.5,637.6 851.5,636.0 859.5,634.3 867.5,633.4 875.5,633.4 883.5,633.6 891.5,633.2 899.5,632.2 907.5,630.5 915.5,628.6 923.5,626.4 931.5,624.2 939.5,621.3 947.5,617.5 955.5,613.3 963.5,609.3 971.5,605.2 979.5,601.2 987.5,597.7 995.5,594.4 1003.5,590.5 1011.5,586.9 1019.5,583.8 1027.5,581.3 1035.5,579.6 1043.5,579.0 1051.5,579.5 1059.5,580.5 1067.5,582.8 1075.5,586.3 1083.5,590.8 1091.5,595.5 1099.5,600.8 1107.5,606.2 1115.5,611.0 1123.5,615.2 1131.5,618.5 1139.5,620.5 1147.5,621.9 1155.5,622.1 1163.5,621.8 1171.5,620.7 1179.5,619.6 1187.5,618.5 1195.5,617.4 1203.5,616.6 1211.5,615.3 1219.5,614.0 1227.5,612.5 1235.5,611.0 1243.5,609.6 1251.5,608.2 1259.5,606.8 1267.5,605.2 1275.5,603.5 1283.5,602.5 1291.5,601.5 1299.5,601.1 1307.5,601.5 1315.5,602.3 1323.5,602.7 1331.5,603.0 1339.5,603.5 1347.5,604.0 1355.5,604.3 1363.5,604.7 1371.5,604.6 1379.5,603.8 1387.5,602.5 1395.5,601.1 1403.5,599.7 1411.5,598.3 1419.5,597.4 1427.5,597.2 1435.5,597.5 1443.5,598.5 1451.5,600.0 1459.5,601.6 1467.5,603.6 1475.5,605.9 1483.5,608.4 1491.5,610.7 1499.5,612.8 1507.5,614.9 1515.5,616.6 1523.5,618.0 1531.5,619.2 1539.5,620.3 1547.5,621.4 1555.5,622.3 1563.5,622.9 1571.5,623.3 1579.5,623.5 1587.5,623.9 1595.5,624.1 1603.5,624.0 1611.5,623.6 1619.5,622.6 1627.5,621.4 1635.5,619.9 1643.5,618.2 1651.5,616.1 1659.5,613.8 1667.5,611.8" fill="none" stroke="#ff0000" stroke-width="1" stroke-dasharray="3,3"/></g><g clip-path="url(#crsi)" shape-rendering="crispEdges"><line x1="3" y1="731.5" x2="1688" y2="731.5" stroke="#c0c0c0" stroke-width="1" stroke-dasharray="3,3" stroke-dashoffset="-1"/><line x1="3" y1="781.5" x2="1688" y2="781.5" stroke="#c0c0c0" stroke-width="1" stroke-dasharray="3,3" stroke-dashoffset="-1"/><polyline points="3.5,769.4 11.5,776.1 19.5,777.0 27.5,778.8 35.5,780.2 43.5,783.3 51.5,775.3 59.5,778.3 67.5,772.6 75.5,770.3 83.5,769.4 91.5,758.4 99.5,761.4 107.5,762.3 115.5,757.5 123.5,744.7 131.5,743.3 139.5,743.3 147.5,743.3 155.5,756.6 163.5,755.4 171.5,751.6 179.5,750.4 187.5,754.3 195.5,757.9 203.5,769.9 211.5,774.4 219.5,773.5 227.5,770.5 235.5,774.4 243.5,768.5 251.5,757.9 259.5,756.6 267.5,762.8 275.5,764.2 283.5,772.1 291.5,766.4 299.5,752.4 307.5,755.4 315.5,754.3 323.5,752.2 331.5,761.4 339.5,762.5 347.5,760.7 355.5,752.2 363.5,756.6 371.5,761.4 379.5,763.2 387.5,756.6 395.5,761.4 403.5,758.4 411.5,753.6 419.5,752.2 427.5,751.3 435.5,752.2 443.5,762.5 451.5,762.5 459.5,781.5 467.5,783.3 475.5,784.5 483.5,793.4 491.5,790.9 499.5,790.9 507.5,779.7 515.5,778.5 523.5,781.5 531.5,780.2 539.5,761.4 547.5,762.5 555.5,760.7 563.5,760.7 571.5,757.5 579.5,757.5 587.5,756.1 595.5,760.8 603.5,764.2 611.5,761.4 619.5,750.4 627.5,753.6 635.5,757.1 643.5,744.2 651.5,747.2 659.5,750.0 667.5,753.9 675.5,755.4 683.5,759.3 691.5,757.5 699.5,757.5 707.5,757.5 715.5,760.7 723.5,773.1 731.5,765.5 739.5,763.2 747.5,771.3 755.5,771.3 763.5,782.4 771.5,778.8 779.5,769.6 787.5,767.3 795.5,758.4 803.5,758.4 811.5,759.6 819.5,758.4 827.5,766.0 835.5,768.2 843.5,761.4 851.5,764.2 859.5,765.5 867.5,766.7 875.5,774.4 883.5,762.5 891.5,750.7 899.5,752.2 907.5,754.3 915.5,753.1 923.5,753.1 931.5,756.6 939.5,744.2 947.5,746.5 955.5,745.4 963.5,738.0 971.5,739.7 979.5,741.9 987.5,747.2 995.5,744.2 1003.5,737.6 1011.5,738.0 1019.5,744.2 1027.5,744.2 1035.5,745.9 1043.5,756.1 1051.5,758.4 1059.5,762.8 1067.5,771.3 1075.5,772.6 1083.5,768.2 1091.5,763.2 1099.5,771.3 1107.5,766.0 1115.5,762.5 1123.5,762.5 1131.5,756.6 1139.5,759.3 1147.5,759.3 1155.5,753.6 1163.5,751.3 1171.5,754.8 1179.5,764.2 1187.5,759.6 1195.5,759.3 1203.5,759.3 1211.5,748.3 1219.5,745.1 1227.5,742.4 1235.5,746.8 1243.5,751.3 1251.5,757.9 1259.5,753.9 1267.5,747.7 1275.5,753.1 1283.5,754.3 1291.5,749.5 1299.5,749.5 1307.5,764.2 1315.5,762.5 1323.5,752.5 1331.5,754.3 1339.5,752.5 1347.5,755.4 1355.5,752.5 1363.5,751.3 1371.5,743.3 1379.5,747.2 1387.5,747.2 1395.5,745.4 1403.5,744.2 1411.5,749.5 1419.5,761.9 1427.5,763.2 1435.5,764.2 1443.5,765.5 1451.5,761.9 1459.5,757.5 1467.5,759.3 1475.5,761.0 1483.5,768.2 1491.5,771.3 1499.5,773.1 1507.5,775.3 1515.5,762.5 1523.5,762.5 1531.5,756.6 1539.5,764.2 1547.5,764.2 1555.5,765.5 1563.5,767.3 1571.5,765.5 1579.5,777.0 1587.5,769.0 1595.5,756.6 1603.5,749.5 1611.5,752.2 1619.5,751.3 1627.5,753.1 1635.5,751.3 1643.5,748.3 1651.5,753.1 1659.5,755.4 1667.5,755.4" fill="none" stroke="#1e90ff" stroke-width="1"/></g><g shape-rendering="crispEdges"><rect x="2" y="2" width="1687" height="1" fill="#000000"/><rect x="2" y="564" width="1687" height="1" fill="#000000"/><rect x="2" y="2" width="1" height="563" fill="#000000"/><rect x="1688" y="2" width="1" height="563" fill="#000000"/><rect x="2" y="566" width="1687" height="1" fill="#000000"/><rect x="2" y="691" width="1687" height="1" fill="#000000"/><rect x="2" y="566" width="1" height="126" fill="#000000"/><rect x="1688" y="566" width="1" height="126" fill="#000000"/><rect x="2" y="693" width="1687" height="1" fill="#000000"/><rect x="2" y="818" width="1687" height="1" fill="#000000"/><rect x="2" y="693" width="1" height="126" fill="#000000"/><rect x="1688" y="693" width="1" height="126" fill="#000000"/><rect x="1689" y="33" width="2" height="1" fill="#000000"/><rect x="1689" y="66" width="2" height="1" fill="#000000"/><rect x="1689" y="99" width="2" height="1" fill="#000000"/><rect x="1689" y="132" width="2" height="1" fill="#000000"/><rect x="1689" y="165" width="2" height="1" fill="#000000"/><rect x="1689" y="198" width="2" height="1" fill="#000000"/><rect x="1689" y="231" width="2" height="1" fill="#000000"/><rect x="1689" y="264" width="2" height="1" fill="#000000"/><rect x="1689" y="297" width="2" height="1" fill="#000000"/><rect x="1689" y="330" width="2" height="1" fill="#000000"/><rect x="1689" y="363" width="2" height="1" fill="#000000"/><rect x="1689" y="396" width="2" height="1" fill="#000000"/><rect x="1689" y="429" width="2" height="1" fill="#000000"/><rect x="1689" y="462" width="2" height="1" fill="#000000"/><rect x="1689" y="495" width="2" height="1" fill="#000000"/><rect x="1689" y="528" width="2" height="1" fill="#000000"/><rect x="1689" y="561" width="2" height="1" fill="#000000"/><rect x="1689" y="568" width="1" height="1" fill="#000000"/><rect x="1689" y="608" width="1" height="1" fill="#000000"/><rect x="1689" y="690" width="1" height="1" fill="#000000"/><rect x="1689" y="695" width="1" height="1" fill="#000000"/><rect x="1689" y="731" width="1" height="1" fill="#000000"/><rect x="1689" y="781" width="1" height="1" fill="#000000"/><rect x="1689" y="817" width="1" height="1" fill="#000000"/><rect x="3" y="819" width="1" height="3" fill="#000000"/><rect x="67" y="819" width="1" height="3" fill="#000000"/><rect x="131" y="819" width="1" height="3" fill="#000000"/><rect x="195" y="819" width="1" height="3" fill="#000000"/><rect x="259" y="819" width="1" height="3" fill="#000000"/><rect x="323" y="819" width="1" height="3" fill="#000000"/><rect x="387" y="819" width="1" height="3" fill="#000000"/><rect x="451" y="819" width="1" height="3" fill="#000000"/><rect x="515" y="819" width="1" height="3" fill="#000000"/><rect x="579" y="819" width="1" height="3" fill="#000000"/><rect x="643" y="819" width="1" height="3" fill="#000000"/><rect x="707" y="819" width="1" height="3" fill="#000000"/><rect x="771" y="819" width="1" height="3" fill="#000000"/><rect x="835" y="819" width="1" height="3" fill="#000000"/><rect x="899" y="819" width="1" height="3" fill="#000000"/><rect x="963" y="819" width="1" height="3" fill="#000000"/><rect x="1027" y="819" width="1" height="3" fill="#000000"/><rect x="1091" y="819" width="1" height="3" fill="#000000"/><rect x="1155" y="819" width="1" height="3" fill="#000000"/><rect x="1219" y="819" width="1" height="3" fill="#000000"/><rect x="1283" y="819" width="1" height="3" fill="#000000"/><rect x="1347" y="819" width="1" height="3" fill="#000000"/><rect x="1411" y="819" width="1" height="3" fill="#000000"/><rect x="1475" y="819" width="1" height="3" fill="#000000"/><rect x="1539" y="819" width="1" height="3" fill="#000000"/><rect x="1603" y="819" width="1" height="3" fill="#000000"/><rect x="1667" y="819" width="1" height="3" fill="#000000"/><rect x="1729" y="0" width="1" height="839" fill="#e0e0e0"/></g><text x="1694" y="37" class="ax">5238.0</text><text x="1694" y="70" class="ax">5201.0</text><text x="1694" y="103" class="ax">5163.0</text><text x="1694" y="136" class="ax">5126.0</text><text x="1694" y="169" class="ax">5089.0</text><text x="1694" y="202" class="ax">5052.0</text><text x="1694" y="235" class="ax">5015.0</text><text x="1694" y="268" class="ax">4978.0</text><text x="1694" y="301" class="ax">4941.0</text><text x="1694" y="334" class="ax">4904.0</text><text x="1694" y="367" class="ax">4866.0</text><text x="1694" y="400" class="ax">4829.0</text><text x="1694" y="433" class="ax">4792.0</text><text x="1694" y="466" class="ax">4755.0</text><text x="1694" y="499" class="ax">4718.0</text><text x="1694" y="532" class="ax">4681.0</text><text x="1694" y="565" class="ax">4644.0</text><g shape-rendering="crispEdges"><rect x="1690" y="118" width="36" height="11" fill="#ff0000"/><text x="1694" y="127" class="ax" style="fill:#ffffff;stroke:#ffffff">5135.0</text><rect x="1690" y="238" width="36" height="11" fill="#ff0000"/><text x="1694" y="247" class="ax" style="fill:#ffffff;stroke:#ffffff">5000.0</text><rect x="1690" y="347" width="36" height="11" fill="#000000"/><text x="1694" y="356" class="ax" style="fill:#ffffff;stroke:#ffffff">4879.4</text><rect x="1690" y="372" width="36" height="11" fill="#32cd32"/><text x="1694" y="381" class="ax" style="fill:#ffffff;stroke:#ffffff">4850.0</text><rect x="1690" y="478" width="36" height="11" fill="#4169e1"/><text x="1694" y="487" class="ax" style="fill:#ffffff;stroke:#ffffff">4730.0</text></g><text x="1692" y="577" class="ax">48.5</text><text x="1692" y="612" class="ax">0.00</text><text x="1692" y="688" class="ax">-97.13</text><text x="1692" y="704" class="ax">100</text><text x="1692" y="735" class="ax">70</text><text x="1692" y="785" class="ax">30</text><text x="1692" y="815" class="ax">0</text><text x="2" y="831" class="ax">15 Jun 2021</text><text x="65" y="831" class="ax">21 Jun 05:00</text><text x="129" y="831" class="ax">25 Jun 05:00</text><text x="193" y="831" class="ax">1 Jul 05:00</text><text x="257" y="831" class="ax">7 Jul 05:00</text><text x="321" y="831" class="ax">13 Jul 05:00</text><text x="385" y="831" class="ax">19 Jul 05:00</text><text x="449" y="831" class="ax">23 Jul 05:00</text><text x="513" y="831" class="ax">29 Jul 05:00</text><text x="577" y="831" class="ax">4 Aug 05:00</text><text x="641" y="831" class="ax">10 Aug 05:00</text><text x="705" y="831" class="ax">16 Aug 05:00</text><text x="769" y="831" class="ax">20 Aug 05:00</text><text x="833" y="831" class="ax">26 Aug 05:00</text><text x="897" y="831" class="ax">1 Sep 05:00</text><text x="961" y="831" class="ax">7 Sep 05:00</text><text x="1025" y="831" class="ax">13 Sep 05:00</text><text x="1089" y="831" class="ax">17 Sep 05:00</text><text x="1153" y="831" class="ax">27 Sep 05:00</text><text x="1217" y="831" class="ax">8 Oct 05:00</text><text x="1281" y="831" class="ax">14 Oct 05:00</text><text x="1345" y="831" class="ax">20 Oct 05:00</text><text x="1409" y="831" class="ax">26 Oct 05:00</text><text x="1473" y="831" class="ax">1 Nov 05:00</text><text x="1537" y="831" class="ax">5 Nov 05:00</text><text x="1601" y="831" class="ax">11 Nov 05:00</text><text x="1665" y="831" class="ax">17 Nov 05:00</text><path d="M6 9 L13 9 L9.5 13 Z" fill="#000"/><text x="18" y="14" class="ax" textLength="65" lengthAdjust="spacing">CHINA300-,H4</text><text x="88.5" y="14" class="ax" textLength="121.5" lengthAdjust="spacing">4878.4 4888.9 4862.6 4879.4</text><text x="7" y="579" class="ax">MACD(12,26,9) 2.84 -2.66</text><text x="7" y="706" class="ax">RSI(14) 51.1429</text><text x="881.5" y="84" class="title">多空转折点</text><text transform="translate(1077.2,82.5) scale(1,1.09)" x="0" y="0" class="title tdig">4850</text>
</svg>
</body></html>
